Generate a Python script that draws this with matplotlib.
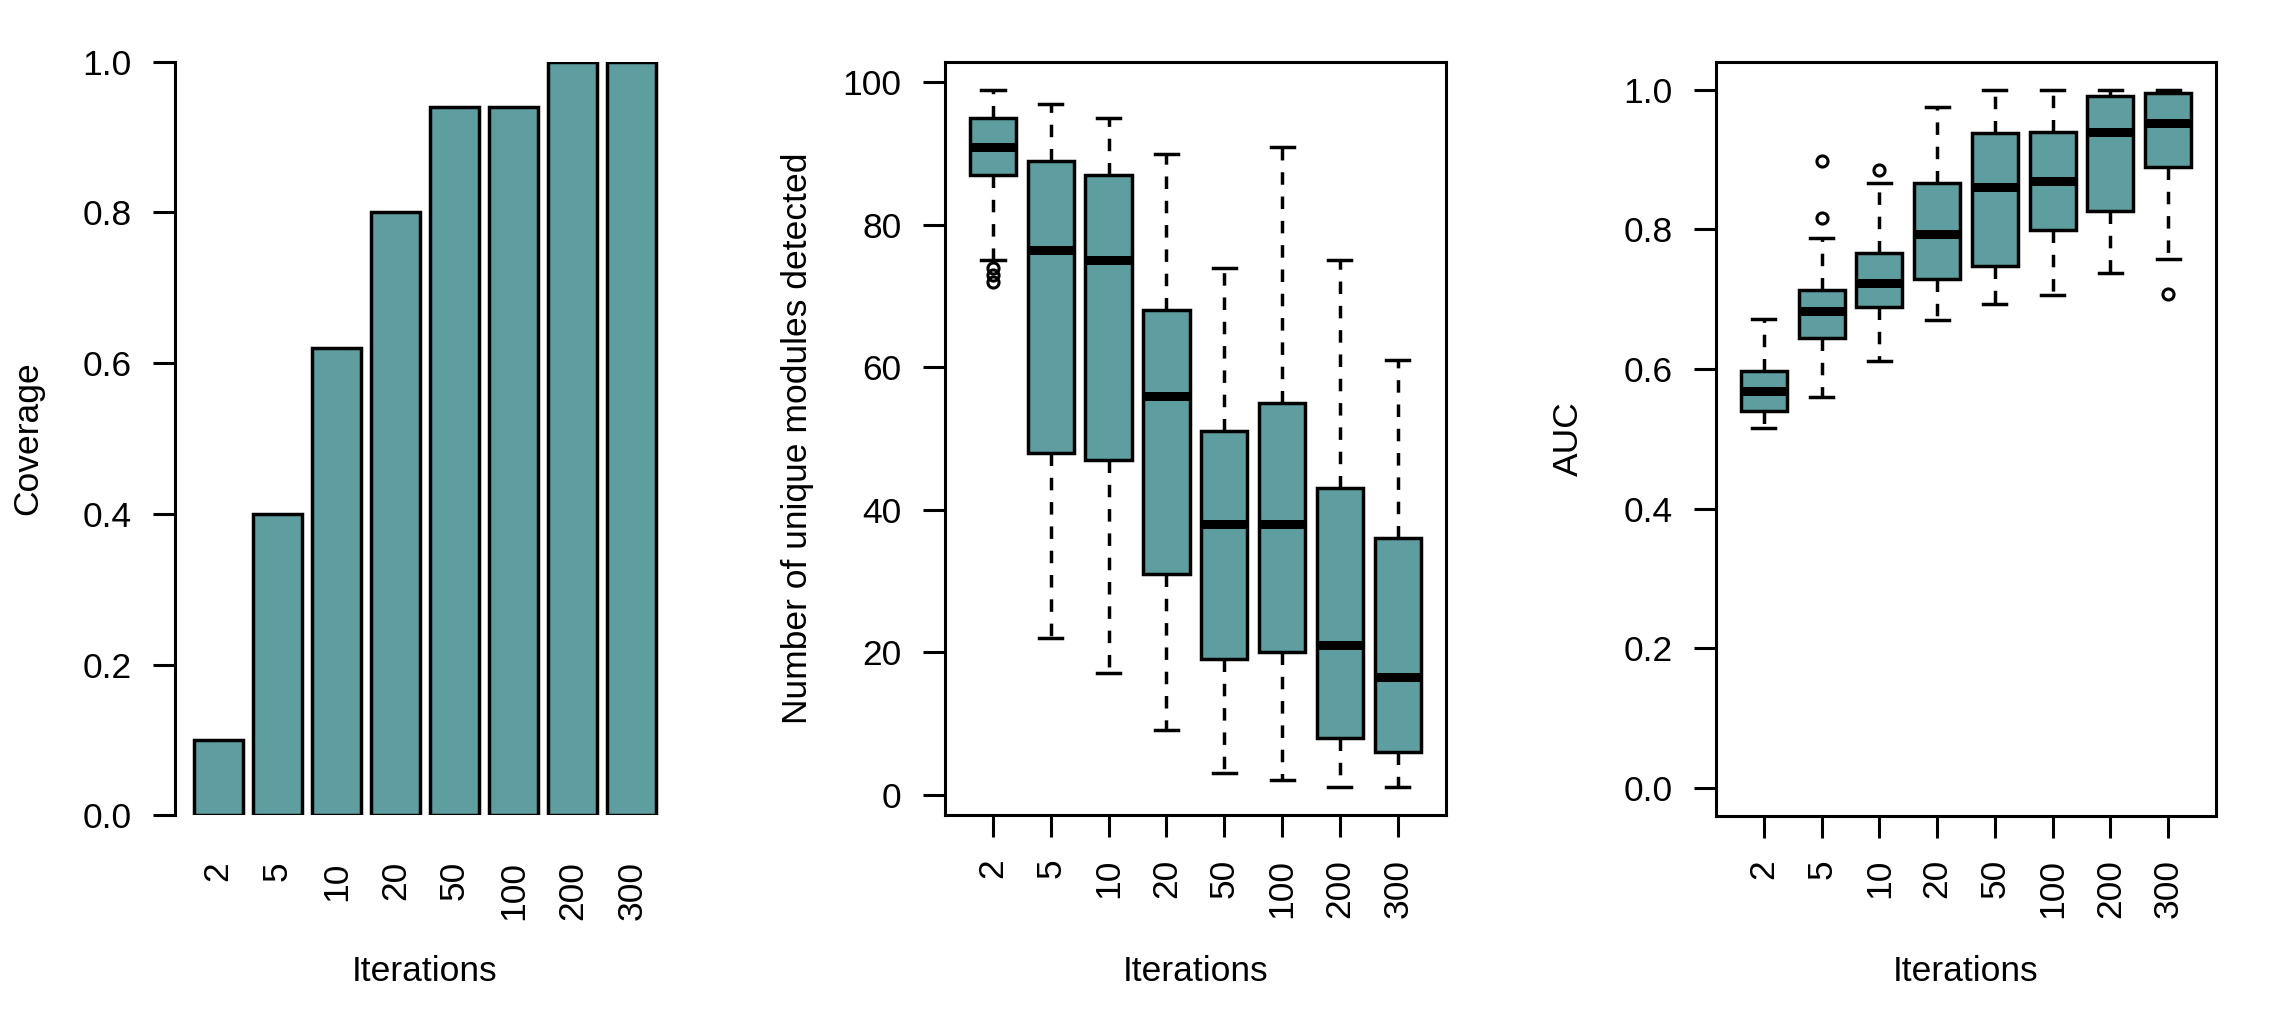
import matplotlib
matplotlib.use("Agg")
import matplotlib.pyplot as plt

# ---------------- data ----------------
iterations = ["2", "5", "10", "20", "50", "100", "200", "300"]

coverage = [0.10, 0.40, 0.62, 0.80, 0.94, 0.94, 1.00, 1.00]

# Number of unique modules detected (boxplot stats)
mod_whislo = [75, 22, 17, 9, 3, 2, 1, 1]
mod_q1     = [87, 48, 47, 31, 19, 20, 8, 6]
mod_med    = [91, 76.5, 75, 56, 38, 38, 21, 16.5]
mod_q3     = [95, 89, 87, 68, 51, 55, 43, 36]
mod_whishi = [99, 97, 95, 90, 74, 91, 75, 61]
mod_fliers = [[74, 73, 72], [], [], [], [], [], [], []]

# AUC (boxplot stats)
auc_whislo = [0.516, 0.560, 0.612, 0.670, 0.693, 0.706, 0.738, 0.758]
auc_q1     = [0.540, 0.645, 0.689, 0.729, 0.748, 0.799, 0.826, 0.890]
auc_med    = [0.569, 0.683, 0.724, 0.793, 0.861, 0.870, 0.939, 0.953]
auc_q3     = [0.597, 0.713, 0.766, 0.867, 0.938, 0.940, 0.991, 0.995]
auc_whishi = [0.672, 0.788, 0.867, 0.975, 1.000, 1.000, 1.000, 1.000]
auc_fliers = [[], [0.816, 0.898], [0.885], [], [], [], [], [0.708]]

# ---------------- style ----------------
FILL = "#5F9EA0"  # cadetblue
FS = 25.5
plt.rcParams["font.family"] = ["Liberation Sans", "DejaVu Sans"]
plt.rcParams["font.size"] = FS

W, H = 2283, 1035
fig = plt.figure(figsize=(W / 100, H / 100), dpi=100)

def frac(x0, y0, x1, y1):
    return [x0 / W, 1 - y1 / H, (x1 - x0) / W, (y1 - y0) / H]

ax1 = fig.add_axes(frac(175, 61.7, 675, 815.3))
ax2 = fig.add_axes(frac(945, 61.7, 1445.7, 815.3))
ax3 = fig.add_axes(frac(1716, 62, 2216, 815.7))

TICKLEN = 16
TICKPAD = 15.2
LW = 2.5
FRAME_LW = 2.2

# ---------- panel 1: barplot ----------
xpos = [0.7 + 1.2 * i for i in range(len(iterations))]
ax1.bar(xpos, coverage, width=1.0, color=FILL, edgecolor="black", linewidth=2.5)
ax1.set_xlim(-0.176, 9.976)
ax1.set_ylim(0, 1.0)
for s in ["top", "right", "bottom"]:
    ax1.spines[s].set_visible(False)
ax1.spines["left"].set_linewidth(FRAME_LW)
ax1.spines["left"].set_bounds(0, 1)
ax1.set_yticks([0, 0.2, 0.4, 0.6, 0.8, 1.0])
ax1.set_yticklabels(["0.0", "0.2", "0.4", "0.6", "0.8", "1.0"])
ax1.set_xticks(xpos)
ax1.set_xticklabels(iterations, rotation=90)
ax1.tick_params(axis="y", length=TICKLEN, width=FRAME_LW, pad=TICKPAD, labelsize=FS)
ax1.tick_params(axis="x", length=0, pad=33, labelsize=FS)
ax1.set_ylabel("Coverage", fontsize=FS, va="baseline")
ax1.yaxis.set_label_coords(-0.276, 0.5)
ax1.set_xlabel("Iterations", fontsize=FS, va="baseline")
ax1.xaxis.set_label_coords(0.5, -0.2195)


def make_stats(lo, q1, med, q3, hi, fl):
    out = []
    for i in range(len(lo)):
        out.append(dict(whislo=lo[i], q1=q1[i], med=med[i], q3=q3[i],
                        whishi=hi[i], fliers=fl[i], label=iterations[i]))
    return out


def draw_box(ax, stats):
    pos = list(range(1, len(stats) + 1))
    bp = ax.bxp(stats, positions=pos, widths=0.8, capwidths=0.4,
                patch_artist=True, showfliers=True,
                boxprops=dict(facecolor=FILL, edgecolor="black", linewidth=LW),
                medianprops=dict(color="black", linewidth=6.5, solid_capstyle="butt"),
                whiskerprops=dict(color="black", linewidth=LW, linestyle=(0, (3.6, 3.4))),
                capprops=dict(color="black", linewidth=LW),
                flierprops=dict(marker="o", markerfacecolor="none",
                                markeredgecolor="black", markersize=8,
                                markeredgewidth=2.2, linestyle="none"))
    ax.set_xlim(0.17, 8.83)
    ax.set_xticks(pos)
    ax.set_xticklabels(iterations, rotation=90)
    for s in ax.spines.values():
        s.set_linewidth(FRAME_LW)
    ax.tick_params(axis="both", length=TICKLEN, width=FRAME_LW, pad=TICKPAD, labelsize=FS)
    ax.set_xlabel("Iterations", fontsize=FS, va="baseline")
    ax.xaxis.set_label_coords(0.5, -0.2195)
    return bp


# ---------- panel 2 ----------
draw_box(ax2, make_stats(mod_whislo, mod_q1, mod_med, mod_q3, mod_whishi, mod_fliers))
ax2.set_ylim(-2.92, 102.92)
ax2.set_yticks([0, 20, 40, 60, 80, 100])
ax2.set_ylabel("Number of unique modules detected", fontsize=FS, va="baseline")
ax2.yaxis.set_label_coords(-0.276, 0.5)

# ---------- panel 3 ----------
draw_box(ax3, make_stats(auc_whislo, auc_q1, auc_med, auc_q3, auc_whishi, auc_fliers))
ax3.set_ylim(-0.04, 1.04)
ax3.set_yticks([0, 0.2, 0.4, 0.6, 0.8, 1.0])
ax3.set_yticklabels(["0.0", "0.2", "0.4", "0.6", "0.8", "1.0"])
ax3.set_ylabel("AUC", fontsize=FS, va="baseline")
ax3.yaxis.set_label_coords(-0.276, 0.5)

fig.savefig("out.png", dpi=100, facecolor="white")
